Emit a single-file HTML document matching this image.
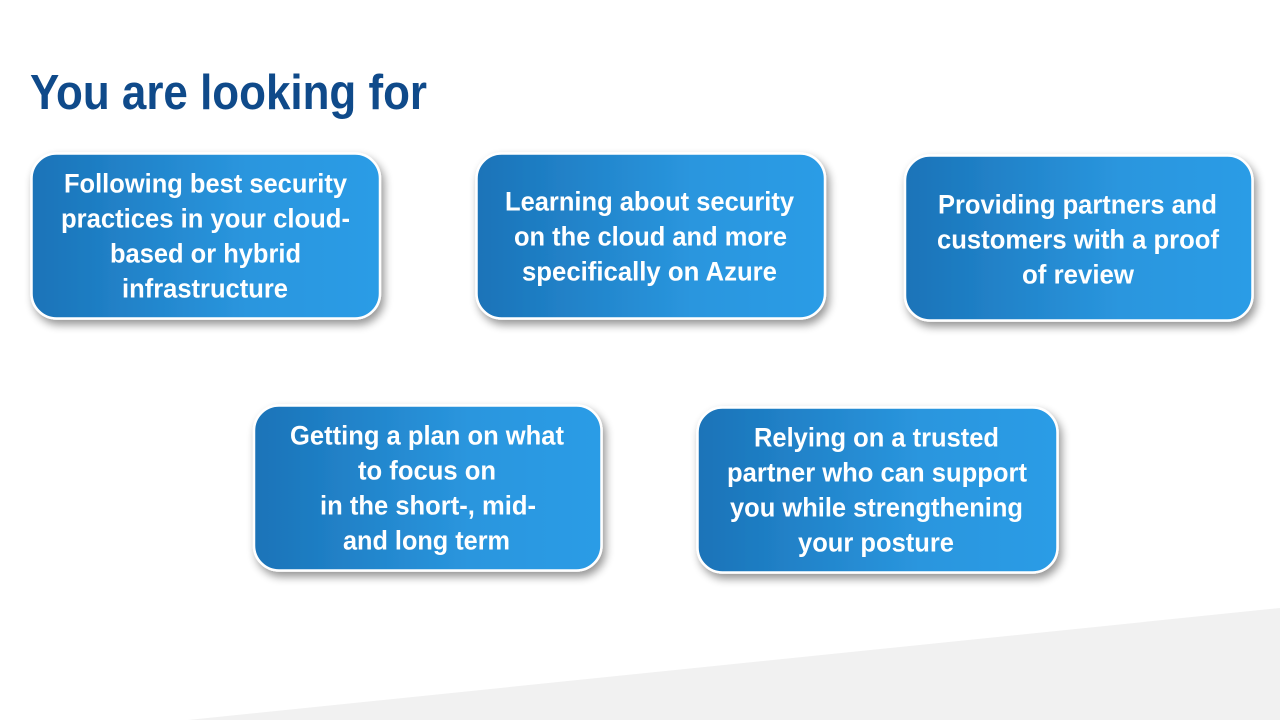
<!DOCTYPE html>
<html lang="en">
<head>
<meta charset="utf-8">
<title>You are looking for</title>
<style>
html,body{margin:0;padding:0;background:#fff;width:1280px;height:720px;overflow:hidden}
svg{display:block}
text{font-family:"Liberation Sans",Arial,sans-serif;font-weight:700}
.t{fill:#fff;font-size:27px}
</style>
</head>
<body>
<svg width="1280" height="720" viewBox="0 0 1280 720" xmlns="http://www.w3.org/2000/svg">
<defs>
<linearGradient id="g" x1="0" y1="0" x2="1" y2="0">
<stop offset="0" stop-color="#1a73b8"/>
<stop offset="0.62" stop-color="#2a96de"/>
<stop offset="1" stop-color="#2c9ce6"/>
</linearGradient>
<filter id="s" x="-10%" y="-15%" width="120%" height="135%">
<feGaussianBlur in="SourceAlpha" stdDeviation="4.5"/>
<feOffset dx="3" dy="5"/>
<feComponentTransfer><feFuncA type="linear" slope="0.42"/></feComponentTransfer>
<feMerge><feMergeNode/><feMergeNode in="SourceGraphic"/></feMerge>
</filter>
</defs>
<rect width="1280" height="720" fill="#fff"/>
<polygon points="1280,608 1280,720 188,720" fill="#f1f1f1"/>
<text x="30" y="109" font-size="49" fill="#0f4a8a" textLength="397" lengthAdjust="spacingAndGlyphs">You are looking for</text>

<g fill="url(#g)" stroke="#fff" stroke-width="2.500" filter="url(#s)">
<rect x="31.500" y="153.500" width="348.500" height="165" rx="25"/>
<rect x="476.500" y="153.500" width="348.500" height="165" rx="25"/>
<rect x="905" y="155.500" width="347.500" height="165" rx="25"/>
<rect x="254" y="405.500" width="347.500" height="165" rx="25"/>
<rect x="697.500" y="407.500" width="360" height="165" rx="25"/>
</g>

<g class="t">
<text class="t" x="64" y="192.500" textLength="283" lengthAdjust="spacingAndGlyphs">Following best security</text>
<text class="t" x="61" y="227.500" textLength="289" lengthAdjust="spacingAndGlyphs">practices in your cloud-</text>
<text class="t" x="110" y="262.500" textLength="191" lengthAdjust="spacingAndGlyphs">based or hybrid</text>
<text class="t" x="122" y="297.500" textLength="166" lengthAdjust="spacingAndGlyphs">infrastructure</text>

<text class="t" x="505" y="210.500" textLength="289" lengthAdjust="spacingAndGlyphs">Learning about security</text>
<text class="t" x="514" y="245.500" textLength="273" lengthAdjust="spacingAndGlyphs">on the cloud and more</text>
<text class="t" x="522" y="280.500" textLength="255" lengthAdjust="spacingAndGlyphs">specifically on Azure</text>

<text class="t" x="938" y="213.500" textLength="279" lengthAdjust="spacingAndGlyphs">Providing partners and</text>
<text class="t" x="937" y="248.500" textLength="282" lengthAdjust="spacingAndGlyphs">customers with a proof</text>
<text class="t" x="1022" y="283.500" textLength="112" lengthAdjust="spacingAndGlyphs">of review</text>

<text class="t" x="290" y="444.500" textLength="274" lengthAdjust="spacingAndGlyphs">Getting a plan on what</text>
<text class="t" x="358" y="479.500" textLength="138" lengthAdjust="spacingAndGlyphs">to focus on</text>
<text class="t" x="320" y="514.500" textLength="216" lengthAdjust="spacingAndGlyphs">in the short-, mid-</text>
<text class="t" x="343" y="549.500" textLength="167" lengthAdjust="spacingAndGlyphs">and long term</text>

<text class="t" x="754" y="446.500" textLength="245" lengthAdjust="spacingAndGlyphs">Relying on a trusted</text>
<text class="t" x="727" y="481.500" textLength="300" lengthAdjust="spacingAndGlyphs">partner who can support</text>
<text class="t" x="730" y="516.500" textLength="293" lengthAdjust="spacingAndGlyphs">you while strengthening</text>
<text class="t" x="798" y="551.500" textLength="156" lengthAdjust="spacingAndGlyphs">your posture</text>
</g>
</svg>
</body>
</html>
